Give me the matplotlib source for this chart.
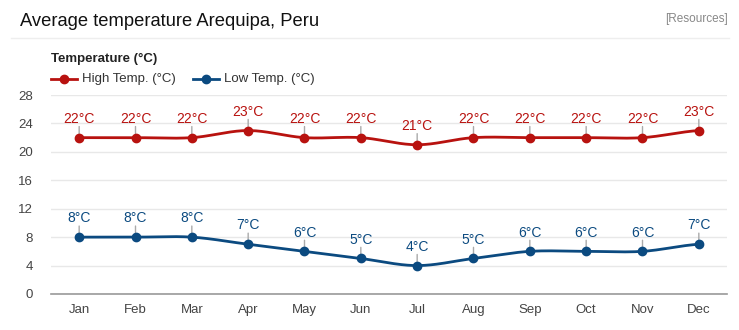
import numpy as np
import matplotlib.pyplot as plt

plt.rcParams['font.family'] = ['Liberation Sans', 'DejaVu Sans']

months = ["Jan", "Feb", "Mar", "Apr", "May", "Jun",
          "Jul", "Aug", "Sep", "Oct", "Nov", "Dec"]
high_temp = [22, 22, 22, 23, 22, 22, 21, 22, 22, 22, 22, 23]
low_temp = [8, 8, 8, 7, 6, 5, 4, 5, 6, 6, 6, 7]
y_ticks = [0, 4, 8, 12, 16, 20, 24, 28]

RED = "#b8120f"
BLUE = "#0b4a80"


def smooth(x, y, steps=30, k=0.25):
    # catmull-rom style curve through the points, only for drawing
    x = np.asarray(x, float)
    y = np.asarray(y, float)
    xs, ys = [], []
    for i in range(len(x) - 1):
        y0 = y[i - 1] if i > 0 else y[i]
        y3 = y[i + 2] if i + 2 < len(y) else y[i + 1]
        m1 = k * (y[i + 1] - y0)
        m2 = k * (y3 - y[i])
        t = np.linspace(0, 1, steps)
        h00 = 2 * t**3 - 3 * t**2 + 1
        h10 = t**3 - 2 * t**2 + t
        h01 = -2 * t**3 + 3 * t**2
        h11 = t**3 - t**2
        xs.append(x[i] + t * (x[i + 1] - x[i]))
        ys.append(h00 * y[i] + h10 * m1 * 2 + h01 * y[i + 1] + h11 * m2 * 2)
    return np.concatenate(xs), np.concatenate(ys)


fig = plt.figure(figsize=(7.39, 3.30), dpi=100)
ax = fig.add_axes([51 / 739, 36 / 330, 676 / 739, 199 / 330])

x = np.arange(len(months))
for vals, color in [(high_temp, RED), (low_temp, BLUE)]:
    sx, sy = smooth(x, vals)
    ax.plot(sx, sy, color=color, lw=2, zorder=3)
    ax.plot(x, vals, "o", color=color, ms=6, zorder=4)
    for xi, v in zip(x, vals):
        ax.annotate("", xy=(xi, v), xytext=(0, 8), textcoords="offset points",
                    xycoords="data",
                    arrowprops=dict(arrowstyle="-", color="#aaaaaa", lw=1,
                                    shrinkA=0, shrinkB=0), zorder=2)
        ax.annotate(f"{v}°C", xy=(xi, v), xytext=(0, 8.5), textcoords="offset points",
                    ha="center", va="bottom", color=color, fontsize=10)

ax.set_xlim(-0.5, 11.5)
ax.set_ylim(0, 28)
ax.set_yticks(y_ticks)
ax.set_xticks(x)
ax.set_xticklabels(months)
ax.grid(axis="y", color="#e8e8e8", lw=1)
ax.set_axisbelow(True)
for s in ["top", "right", "left"]:
    ax.spines[s].set_visible(False)
ax.spines["bottom"].set_color("#999999")
ax.spines["bottom"].set_linewidth(1.2)
ax.tick_params(axis="both", length=0, labelsize=9.5, colors="#444444")
ax.tick_params(axis="y", pad=13)
ax.tick_params(axis="x", pad=7)

fig.text(20 / 739, 1 - 22 / 330, "Average temperature Arequipa, Peru",
         fontsize=13.2, va="center", ha="left", color="#111111")
fig.text(728 / 739, 1 - 19 / 330, "[Resources]", fontsize=8.5,
         va="center", ha="right", color="#888888")
fig.add_artist(plt.Line2D([11 / 739, 729 / 739], [1 - 38 / 330, 1 - 38 / 330],
                          color="#eeeeee", lw=1))
fig.text(51 / 739, 1 - 59 / 330, "Temperature (°C)", fontsize=9.5,
         fontweight="bold", va="center", ha="left", color="#222222")

for lx, label, color in [(51, "High Temp. (°C)", RED), (193, "Low Temp. (°C)", BLUE)]:
    yy = 1 - 79 / 330
    fig.add_artist(plt.Line2D([lx / 739, (lx + 26) / 739], [yy, yy], color=color, lw=2))
    fig.add_artist(plt.Line2D([(lx + 13) / 739], [yy], marker="o", color=color, ms=6))
    fig.text((lx + 31) / 739, yy, label, fontsize=9.5, va="center", ha="left",
             color="#333333")

fig.savefig("out.png", dpi=100)
